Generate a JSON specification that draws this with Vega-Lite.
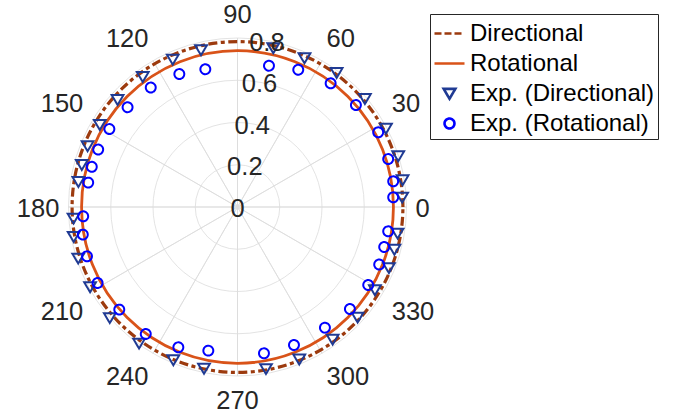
{
  "$schema": "https://vega.github.io/schema/vega-lite/v6.json",
  "width": 475,
  "height": 414,
  "autosize": {"type": "none"},
  "padding": {"left": 0, "top": 0, "right": 199, "bottom": 5},
  "background": "white",
  "config": {"view": {"stroke": null}, "font": "Liberation Sans"},
  "datasets": {
    "rings": [{"g": 0.2}, {"g": 0.4}, {"g": 0.6}, {"g": 0.8}],
    "spokes": [{"a": 0}, {"a": 30}, {"a": 60}, {"a": 90}, {"a": 120}, {"a": 150}, {"a": 180}, {"a": 210}, {"a": 240}, {"a": 270}, {"a": 300}, {"a": 330}],
    "dircurve": [{"s": "Directional", "r": 0.783}],
    "rotcurve": [{"s": "Rotational", "r": 0.738}],
    "rticks": [{"v": 0, "t": "0"}, {"v": 0.2, "t": "0.2"}, {"v": 0.4, "t": "0.4"}, {"v": 0.6, "t": "0.6"}, {"v": 0.8, "t": "0.8"}],
    "points": [
      {"s": "Exp. (Directional)", "x": 0.7801, "y": 0.0459},
      {"s": "Exp. (Directional)", "x": 0.7820, "y": 0.1278},
      {"s": "Exp. (Directional)", "x": 0.7612, "y": 0.2414},
      {"s": "Exp. (Directional)", "x": 0.7030, "y": 0.3716},
      {"s": "Exp. (Directional)", "x": 0.6035, "y": 0.5127},
      {"s": "Exp. (Directional)", "x": 0.4696, "y": 0.6357},
      {"s": "Exp. (Directional)", "x": 0.3172, "y": 0.7053},
      {"s": "Exp. (Directional)", "x": 0.1695, "y": 0.7527},
      {"s": "Exp. (Directional)", "x": -0.1728, "y": 0.7432},
      {"s": "Exp. (Directional)", "x": -0.3067, "y": 0.6992},
      {"s": "Exp. (Directional)", "x": -0.4488, "y": 0.6168},
      {"s": "Exp. (Directional)", "x": -0.5680, "y": 0.5079},
      {"s": "Exp. (Directional)", "x": -0.6523, "y": 0.3896},
      {"s": "Exp. (Directional)", "x": -0.7101, "y": 0.2888},
      {"s": "Exp. (Directional)", "x": -0.7375, "y": 0.2002},
      {"s": "Exp. (Directional)", "x": -0.7536, "y": 0.1198},
      {"s": "Exp. (Directional)", "x": -0.7768, "y": -0.0535},
      {"s": "Exp. (Directional)", "x": -0.7759, "y": -0.1406},
      {"s": "Exp. (Directional)", "x": -0.7546, "y": -0.2428},
      {"s": "Exp. (Directional)", "x": -0.6982, "y": -0.3787},
      {"s": "Exp. (Directional)", "x": -0.6050, "y": -0.5245},
      {"s": "Exp. (Directional)", "x": -0.4663, "y": -0.6452},
      {"s": "Exp. (Directional)", "x": -0.3039, "y": -0.7243},
      {"s": "Exp. (Directional)", "x": -0.1586, "y": -0.7645},
      {"s": "Exp. (Directional)", "x": 0.1349, "y": -0.7659},
      {"s": "Exp. (Directional)", "x": 0.2925, "y": -0.7209},
      {"s": "Exp. (Directional)", "x": 0.4506, "y": -0.6263},
      {"s": "Exp. (Directional)", "x": 0.5690, "y": -0.5221},
      {"s": "Exp. (Directional)", "x": 0.6509, "y": -0.3929},
      {"s": "Exp. (Directional)", "x": 0.7172, "y": -0.2878},
      {"s": "Exp. (Directional)", "x": 0.7432, "y": -0.2012},
      {"s": "Exp. (Directional)", "x": 0.7583, "y": -0.1245},
      {"s": "Exp. (Rotational)", "x": 0.7375, "y": 0.0459},
      {"s": "Exp. (Rotational)", "x": 0.7375, "y": 0.1217},
      {"s": "Exp. (Rotational)", "x": 0.7138, "y": 0.2272},
      {"s": "Exp. (Rotational)", "x": 0.6665, "y": 0.3536},
      {"s": "Exp. (Rotational)", "x": 0.5609, "y": 0.4828},
      {"s": "Exp. (Rotational)", "x": 0.4412, "y": 0.5856},
      {"s": "Exp. (Rotational)", "x": 0.2878, "y": 0.6499},
      {"s": "Exp. (Rotational)", "x": 0.1491, "y": 0.6689},
      {"s": "Exp. (Rotational)", "x": -0.1524, "y": 0.6523},
      {"s": "Exp. (Rotational)", "x": -0.2755, "y": 0.6296},
      {"s": "Exp. (Rotational)", "x": -0.4109, "y": 0.5657},
      {"s": "Exp. (Rotational)", "x": -0.5207, "y": 0.4724},
      {"s": "Exp. (Rotational)", "x": -0.6069, "y": 0.3692},
      {"s": "Exp. (Rotational)", "x": -0.6599, "y": 0.2722},
      {"s": "Exp. (Rotational)", "x": -0.6902, "y": 0.1903},
      {"s": "Exp. (Rotational)", "x": -0.7072, "y": 0.1155},
      {"s": "Exp. (Rotational)", "x": -0.7309, "y": -0.0440},
      {"s": "Exp. (Rotational)", "x": -0.7328, "y": -0.1306},
      {"s": "Exp. (Rotational)", "x": -0.7129, "y": -0.2334},
      {"s": "Exp. (Rotational)", "x": -0.6627, "y": -0.3598},
      {"s": "Exp. (Rotational)", "x": -0.5600, "y": -0.4857},
      {"s": "Exp. (Rotational)", "x": -0.4346, "y": -0.6012},
      {"s": "Exp. (Rotational)", "x": -0.2802, "y": -0.6641},
      {"s": "Exp. (Rotational)", "x": -0.1382, "y": -0.6802},
      {"s": "Exp. (Rotational)", "x": 0.1254, "y": -0.6925},
      {"s": "Exp. (Rotational)", "x": 0.2675, "y": -0.6533},
      {"s": "Exp. (Rotational)", "x": 0.4142, "y": -0.5714},
      {"s": "Exp. (Rotational)", "x": 0.5325, "y": -0.4828},
      {"s": "Exp. (Rotational)", "x": 0.6192, "y": -0.3692},
      {"s": "Exp. (Rotational)", "x": 0.6712, "y": -0.2722},
      {"s": "Exp. (Rotational)", "x": 0.6949, "y": -0.1893},
      {"s": "Exp. (Rotational)", "x": 0.7138, "y": -0.1150}
    ]
  },
  "layer": [
    {
      "data": {"name": "rings"},
      "mark": {"type": "arc", "filled": false, "fill": "transparent", "stroke": "#DCDCDC", "strokeWidth": 0.8},
      "encoding": {
        "theta": {"datum": 0, "type": "quantitative", "scale": {"type": "linear", "domain": [0, 360], "range": [1.5707963267948966, -4.71238898038469], "zero": false, "nice": false}},
        "theta2": {"datum": 360},
        "radius": {"field": "g", "type": "quantitative", "stack": null, "scale": {"type": "linear", "domain": [0, 0.8], "range": [0, 169], "zero": true, "nice": false}}
      }
    },
    {
      "data": {"name": "spokes"},
      "mark": {"type": "arc", "filled": false, "fill": "transparent", "stroke": "#DCDCDC", "strokeWidth": 0.8},
      "encoding": {
        "theta": {"field": "a", "type": "quantitative", "stack": null, "scale": {"type": "linear", "domain": [0, 360], "range": [1.5707963267948966, -4.71238898038469], "zero": false, "nice": false}},
        "theta2": {"field": "a"},
        "radius": {"datum": 0.8, "type": "quantitative", "stack": null, "scale": {"type": "linear", "domain": [0, 0.8], "range": [0, 169], "zero": true, "nice": false}},
        "radius2": {"datum": 0}
      }
    },
    {
      "data": {"name": "dircurve"},
      "mark": {"type": "arc", "filled": false, "fill": "transparent", "strokeWidth": 3.2, "strokeDash": [9, 3.5, 4, 3.5]},
      "encoding": {
        "theta": {"datum": 0, "type": "quantitative", "scale": {"type": "linear", "domain": [0, 360], "range": [1.5707963267948966, -4.71238898038469], "zero": false, "nice": false}},
        "theta2": {"datum": 360},
        "radius": {"field": "r", "type": "quantitative", "stack": null, "scale": {"type": "linear", "domain": [0, 0.8], "range": [0, 169], "zero": true, "nice": false}},
        "color": {
          "field": "s", "type": "nominal",
          "scale": {"domain": ["Directional", "Rotational", "Exp. (Directional)", "Exp. (Rotational)"], "range": ["#9C3A0E", "#D95319", "#1F3A93", "#0000FF"]},
          "legend": {
            "title": null, "orient": "none", "legendX": 430, "legendY": 14,
            "padding": 3, "strokeColor": "#262626", "fillColor": "white", "cornerRadius": 0,
            "labelFont": "Liberation Sans", "labelFontSize": 24, "labelColor": "#000000", "labelOffset": 4, "labelLimit": 400,
            "symbolSize": 900, "symbolStrokeWidth": 2.6, "rowPadding": 1, "symbolOffset": 0, "symbolFillColor": "transparent"
          }
        }
      }
    },
    {
      "data": {"name": "rotcurve"},
      "mark": {"type": "arc", "filled": false, "fill": "transparent", "strokeWidth": 2.8},
      "encoding": {
        "theta": {"datum": 0, "type": "quantitative", "scale": {"type": "linear", "domain": [0, 360], "range": [1.5707963267948966, -4.71238898038469], "zero": false, "nice": false}},
        "theta2": {"datum": 360},
        "radius": {"field": "r", "type": "quantitative", "stack": null, "scale": {"type": "linear", "domain": [0, 0.8], "range": [0, 169], "zero": true, "nice": false}},
        "color": {"field": "s", "type": "nominal"}
      }
    },
    {
      "data": {"name": "points"},
      "mark": {"type": "point", "filled": false, "strokeWidth": 2, "opacity": 1, "size": 900},
      "encoding": {
        "x": {"field": "x", "type": "quantitative", "axis": null, "scale": {"domain": [-1.125, 1.125], "nice": false, "zero": false}},
        "y": {"field": "y", "type": "quantitative", "axis": null, "scale": {"domain": [-0.98, 0.98], "nice": false, "zero": false}},
        "color": {"field": "s", "type": "nominal"},
        "shape": {
          "field": "s", "type": "nominal", "legend": {"title": null},
          "scale": {"domain": ["Directional", "Rotational", "Exp. (Directional)", "Exp. (Rotational)"],
            "range": ["M-1,0H1", "M-1,0H1", "M-0.39,-0.31H0.39L0,0.35Z", "M0.33,0A0.33,0.33,0,1,1,-0.33,0A0.33,0.33,0,1,1,0.33,0Z"]}
        },
        "strokeDash": {
          "field": "s", "type": "nominal", "legend": {"title": null},
          "scale": {"domain": ["Directional", "Rotational", "Exp. (Directional)", "Exp. (Rotational)"], "range": [[7, 3, 7, 3], [1, 0], [1, 0], [1, 0]]}
        }
      }
    },
    {
      "data": {"name": "spokes"},
      "mark": {
        "type": "text", "font": "Liberation Sans", "fontSize": 25.5, "color": "#262626",
        "align": {"expr": "datum.a == 90 || datum.a == 270 ? 'center' : (datum.a > 90 && datum.a < 270 ? 'right' : 'left')"},
        "baseline": {"expr": "datum.a == 0 || datum.a == 180 ? 'middle' : (datum.a < 180 ? 'bottom' : 'top')"},
        "dy": {"expr": "datum.a == 0 || datum.a == 180 ? 2 : (datum.a < 180 ? -1 : 4)"}
      },
      "encoding": {
        "theta": {"field": "a", "type": "quantitative", "stack": null, "scale": {"type": "linear", "domain": [0, 360], "range": [1.5707963267948966, -4.71238898038469], "zero": false, "nice": false}},
        "radius": {"datum": 0.843, "type": "quantitative", "stack": null, "scale": {"type": "linear", "domain": [0, 0.8], "range": [0, 169], "zero": true, "nice": false}},
        "text": {"field": "a", "type": "nominal"}
      }
    },
    {
      "data": {"name": "rticks"},
      "mark": {"type": "text", "font": "Liberation Sans", "fontSize": 25.5, "color": "#262626", "align": "center", "baseline": "middle", "dy": 2},
      "encoding": {
        "theta": {"datum": 80, "type": "quantitative", "scale": {"type": "linear", "domain": [0, 360], "range": [1.5707963267948966, -4.71238898038469], "zero": false, "nice": false}},
        "radius": {"field": "v", "type": "quantitative", "stack": null, "scale": {"type": "linear", "domain": [0, 0.8], "range": [0, 169], "zero": true, "nice": false}},
        "text": {"field": "t", "type": "nominal"}
      }
    }
  ]
}
